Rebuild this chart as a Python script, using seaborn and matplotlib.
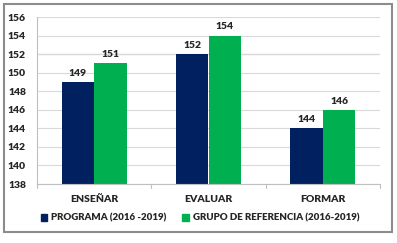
import numpy as np
import pandas as pd
import matplotlib
matplotlib.use("Agg")
import matplotlib.pyplot as plt
import seaborn as sns
from matplotlib.patches import Rectangle

# datos
categorias = ["ENSEÑAR", "EVALUAR", "FORMAR"]
series = ["PROGRAMA (2016 -2019)", "GRUPO DE REFERENCIA (2016-2019)"]
programa = [149, 152, 144]
referencia = [151, 154, 146]
colores = ["#002060", "#00B050"]

df = pd.DataFrame({
    "categoria": categorias * 2,
    "serie": [series[0]] * 3 + [series[1]] * 3,
    "valor": programa + referencia,
})

sns.set_style("white")
plt.rcParams["font.family"] = ["Lato", "DejaVu Sans"]
plt.rcParams["font.weight"] = "bold"

fig = plt.figure(figsize=(3.97, 2.43), dpi=100)
ax = fig.add_axes([37 / 397, 1 - 184 / 243, (380 - 37) / 397, (184 - 17) / 243])

sns.barplot(data=df, x="categoria", y="valor", hue="serie", palette=colores,
            width=0.57, gap=0, ax=ax, saturation=1, edgecolor="none")

ax.set_ylim(138, 156)
ax.set_yticks(np.arange(138, 157, 2))
ax.set_xlim(-0.5, 2.5)
ax.grid(axis="y", color="#d9d9d9", linewidth=0.8)
ax.axhline(152, color="#8c8c8c", linewidth=0.8, zorder=0.5)
ax.set_axisbelow(True)
for s in ["top", "right"]:
    ax.spines[s].set_visible(False)
for s in ["left", "bottom"]:
    ax.spines[s].set_color("#bfbfbf")
    ax.spines[s].set_linewidth(0.8)
ax.set_xlabel("")
ax.set_ylabel("")
ax.tick_params(axis="y", length=0, labelsize=7.5, pad=8)
ax.tick_params(axis="x", length=0, labelsize=7.5, pad=8)
for lab in ax.get_xticklabels() + ax.get_yticklabels():
    lab.set_fontweight("heavy")
for x in [-0.5, 0.5, 1.5, 2.5]:
    ax.plot([x, x], [138, 137.6], color="#bfbfbf", linewidth=0.8, clip_on=False)

for cont in ax.containers:
    ax.bar_label(cont, fmt="%d", padding=3, fontsize=7.5, fontweight="heavy")

ax.legend_.remove()
handles = [plt.Rectangle((0, 0), 1, 1, color=c) for c in colores]
fig.legend(handles, series, loc="center", bbox_to_anchor=(200 / 397, 1 - 218 / 243),
           ncol=2, frameon=False, prop={"size": 7, "weight": "heavy"},
           handlelength=0.7, handleheight=0.7,
           handletextpad=0.4, columnspacing=1.6)

fig.patches.append(Rectangle((4 / 397, 1 - 232 / 243), 388 / 397, 228 / 243,
                             transform=fig.transFigure, fill=False,
                             edgecolor="#8c8c8c", linewidth=1.5))

fig.savefig("out.png", dpi=100)
